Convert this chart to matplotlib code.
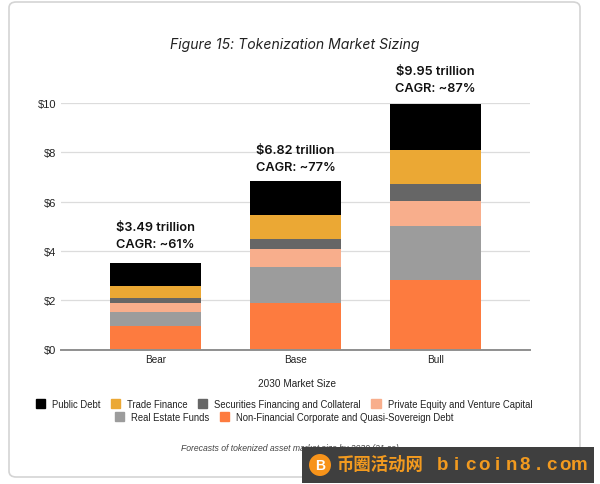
"""Figure 15: tokenization market sizing, stacked bars by scenario."""

import matplotlib
matplotlib.use("Agg")
import matplotlib.pyplot as plt
from matplotlib.patches import Circle, FancyBboxPatch, Patch, Rectangle
import numpy as np

scenarios = ["Bear", "Base", "Bull"]
corporate_debt = [0.94, 1.89, 2.80]
real_estate = [0.58, 1.47, 2.21]
private_equity = [0.37, 0.70, 1.01]
securities = [0.21, 0.41, 0.68]
trade_finance = [0.46, 0.97, 1.41]
public_debt = [0.93, 1.38, 1.84]
totals = ["$3.49 trillion", "$6.82 trillion", "$9.95 trillion"]
cagr = ["CAGR: ~61%", "CAGR: ~77%", "CAGR: ~87%"]
yticks = [0, 2, 4, 6, 8, 10]

W, H = 600, 485
plt.rcParams["font.family"] = ["Liberation Sans", "DejaVu Sans"]


def fx(px):
    return px / W


def fy(py):
    return 1 - py / H


fig = plt.figure(figsize=(W / 100, H / 100), dpi=100, facecolor="white")

# rounded card behind everything
fig.add_artist(FancyBboxPatch((fx(9), fy(478)), fx(571), 475 / H,
                              boxstyle="round,pad=0,rounding_size=0.012",
                              transform=fig.transFigure, fc="white", ec="#d4d4d4", lw=1.2,
                              zorder=-5))

ax = fig.add_axes([fx(61), fy(350.5), fx(469), 246.6 / H])
ax.patch.set_alpha(0)
stack = [
    ("Non-Financial Corporate and Quasi-Sovereign Debt", corporate_debt, "#fd7b3f"),
    ("Real Estate Funds", real_estate, "#9c9c9c"),
    ("Private Equity and Venture Capital", private_equity, "#f8ae8c"),
    ("Securities Financing and Collateral", securities, "#666666"),
    ("Trade Finance", trade_finance, "#eba834"),
    ("Public Debt", public_debt, "#000000"),
]
x = np.arange(len(scenarios))
bottom = np.zeros(len(scenarios))
handles = {}
for name, vals, color in stack:
    ax.bar(x, vals, 0.65, bottom=bottom, color=color, zorder=3)
    handles[name] = Patch(color=color)
    bottom += np.array(vals)

ax.set_xlim(-0.675, 2.675)
ax.set_ylim(0, 10)
ax.set_xticks(x, scenarios, fontsize=7.2, color="#222222")
ax.set_yticks(yticks, [f"${t}" for t in yticks], fontsize=8, color="#222222")
ax.tick_params(axis="x", length=0, pad=3)
ax.tick_params(axis="y", length=0, pad=3.5)
ax.grid(axis="y", color="#dcdcdc", lw=0.9, zorder=0)
for s in ["top", "left", "right"]:
    ax.spines[s].set_visible(False)
ax.spines["bottom"].set_color("#8f8f8f")
ax.spines["bottom"].set_linewidth(1.4)
ax.spines["bottom"].set_zorder(4)

# scenario totals above the bars
label_gaps = [13, 8, 10]
for i, top in enumerate(bottom):
    ax.annotate(totals[i], (x[i], top), xytext=(0, label_gaps[i] + 17), textcoords="offset pixels",
                ha="center", va="bottom", fontsize=9.2, fontweight="semibold",
                family=["Inter", "DejaVu Sans"], color="#111111", zorder=5)
    ax.annotate(cagr[i], (x[i], top), xytext=(0, label_gaps[i]), textcoords="offset pixels",
                ha="center", va="bottom", fontsize=9.2, fontweight="semibold",
                family=["Inter", "DejaVu Sans"], color="#111111", zorder=5)

fig.text(fx(294.5), fy(45), "Figure 15: Tokenization Market Sizing", ha="center", va="center",
         fontsize=10.1, style="italic", family=["Inter", "DejaVu Sans"], color="#222222")
fig.text(fx(297), fy(384), "2030 Market Size", ha="center", va="center", fontsize=7.2, color="#222222")

row1 = ["Public Debt", "Trade Finance", "Securities Financing and Collateral",
        "Private Equity and Venture Capital"]
row2 = ["Real Estate Funds", "Non-Financial Corporate and Quasi-Sovereign Debt"]
for row, py, cx in [(row1, 405, 284), (row2, 418, 284)]:
    fig.legend([handles[n] for n in row], row, loc="center", ncol=len(row),
               bbox_to_anchor=(fx(cx), fy(py)), frameon=False, fontsize=6.85,
               handlelength=0.95, handleheight=1.0, handletextpad=0.75, columnspacing=1.1,
               borderpad=0, labelcolor="#222222")

fig.text(fx(290), fy(449), "Forecasts of tokenized asset market size by 2030 (21.co)",
         ha="center", va="center", fontsize=6.2, style="italic", color="#444444")

# watermark band, bottom right
bx = fig.add_axes([0, 0, 1, 1], zorder=11)
bx.set_xlim(0, W)
bx.set_ylim(H, 0)
bx.axis("off")
bx.add_patch(Rectangle((302, 448), 292, 36, fc="#3f3f3f", ec="none"))
bx.add_patch(Circle((320, 466), 11, fc="#f7931a", ec="none"))
bx.text(320, 466, "B", color="white", fontsize=10, fontweight="bold", ha="center", va="center")
bx.text(337, 465, "币圈活动网", color="#f29a1f", fontsize=12.5, ha="left",
        va="center", fontweight="bold", family=["Noto Sans CJK SC", "DejaVu Sans"])
for k, ch in enumerate("bicoin8.com"):
    bx.text(443 + k * 13.6, 466, ch, color="#f29a1f", fontsize=13.5, ha="center", va="center",
            fontweight="bold", family=["Liberation Sans", "DejaVu Sans"])

fig.savefig("out.png", dpi=100)
